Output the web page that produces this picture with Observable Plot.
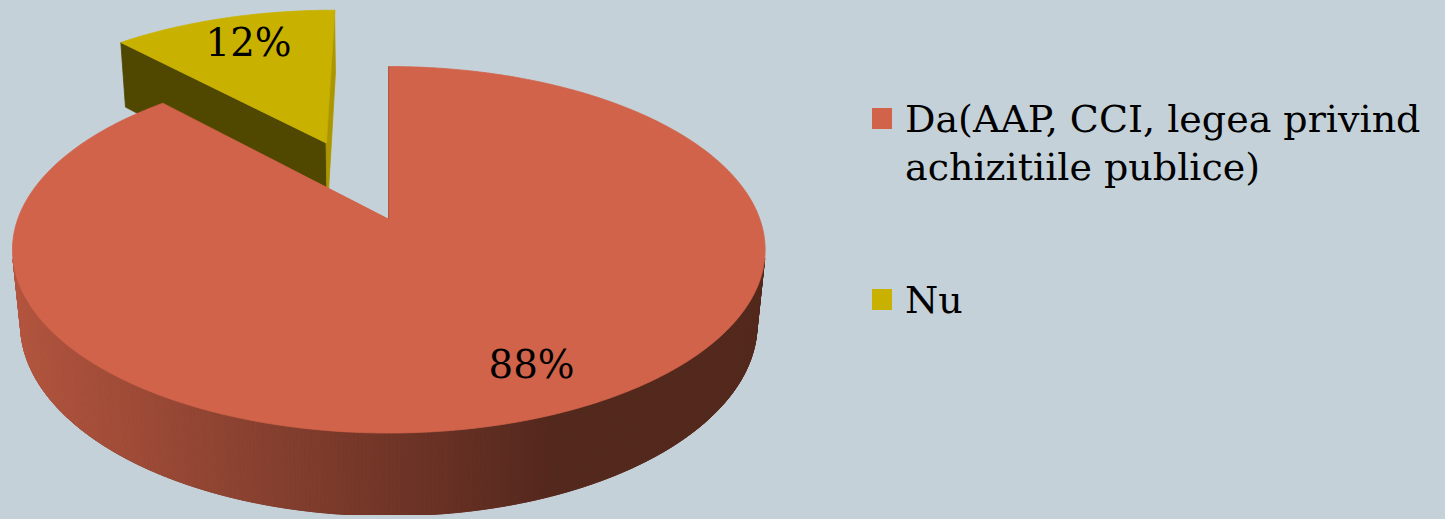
<!DOCTYPE html>
<html><head><meta charset="utf-8">
<script src="https://cdn.jsdelivr.net/npm/d3@7"></script>
<script src="https://cdn.jsdelivr.net/npm/@observablehq/plot@0.6"></script>
<style>
html,body{margin:0;padding:0;background:#c5d1d8;}
#wrap{display:flex;width:1445px;height:519px;overflow:hidden;position:relative;}
#chart svg{display:block;}
#legend{font-family:"DejaVu Serif",serif;font-size:38px;color:#000;padding-left:8px;}
.item{display:flex;align-items:flex-start;}
.sw{width:20px;height:21px;flex:none;margin-right:13px;}
.tx{line-height:48px;width:540px;}
</style></head><body>
<div id="wrap"><div id="chart"></div><div id="legend"></div></div>
<script>
// ---- data ----
const categories = ["Da(AAP, CCI, legea privind achizitiile publice)", "Nu"];
const values = [88, 12];
const valueLabels = ["88%", "12%"];
const colors = ["#d06349", "#c9b100"];
const exploded = [false, true];

// ---- 3D pie layout (perspective view) ----
const W = 870, HGT = 519;
const sinT = 0.48, cosT = Math.sqrt(1 - sinT * sinT);
const D = 5.22, F = 1950, CX = 391, CY = 220, DEPTH = 0.231, EXPLODE = 0.495;
const cam = [0, D * cosT, D * sinT];
function proj(u, v, h) {
  const xc = u, yc = v * sinT - h * cosT, zc = D - v * cosT - h * sinT;
  return [CX + F * xc / zc, CY + F * yc / zc];
}
function shadeSide(x) { // Excel-like horizontal gradient on the outer wall
  const t = Math.max(0, Math.min(1, (x - 14) / 546));
  return 0.86 - 0.46 * t;
}
function scaleColor(c, k) {
  const r = d3.rgb(c);
  return d3.rgb(r.r * k, r.g * k, r.b * k).formatHex();
}

const arcs = d3.pie().sort(null).value(d => d)(values);
const slices = arcs.map((a, i) => {
  const mid = (a.startAngle + a.endAngle) / 2;
  const e = exploded[i] ? EXPLODE : 0;
  return {i, a0: a.startAngle, a1: a.endAngle, mid, ou: e * Math.sin(mid), ov: -e * Math.cos(mid)};
});
// painter's order: back slices first
slices.sort((p, q) => (-Math.cos(p.mid)) - (-Math.cos(q.mid)));

const polys = [];
let pid = 0;
function addPoly(pts, fill) {
  const id = pid++;
  for (const [x, y] of pts) polys.push({id, x, y, fill});
}
const rim = (s, a, h) => proj(s.ou + Math.sin(a), s.ov - Math.cos(a), h);
const apex = (s, h) => proj(s.ou, s.ov, h);

for (const s of slices) {
  const base = colors[s.i];
  // radial faces
  for (const [a, sign] of [[s.a0, -1], [s.a1, 1]]) {
    const n = [sign * Math.cos(a), sign * Math.sin(a)];
    const d = (cam[0] - s.ou) * n[0] + (cam[1] - s.ov) * n[1];
    if (d >= -1e-9) {
      addPoly([apex(s, 0), rim(s, a, 0), rim(s, a, -DEPTH), apex(s, -DEPTH)], scaleColor(base, n[0] > 0.5 ? 0.85 : 0.4));
    }
  }
  // outer wall: backing polygon then thin shaded strips
  const step = Math.PI / 360;
  const strips = [];
  for (let a = s.a0; a < s.a1 - 1e-9; a += step) {
    const b = Math.min(a + step, s.a1), m = (a + b) / 2;
    const pu = s.ou + Math.sin(m), pv = s.ov - Math.cos(m);
    const vis = (cam[0] - pu) * Math.sin(m) + (cam[1] - pv) * (-Math.cos(m));
    if (vis <= 0) continue;
    strips.push([a, b]);
  }
  if (strips.length) {
    const aS = strips[0][0], aE = strips[strips.length - 1][1];
    const topPts = [], botPts = [];
    for (const [a] of strips) { topPts.push(rim(s, a, 0)); botPts.push(rim(s, a, -DEPTH)); }
    topPts.push(rim(s, aE, 0)); botPts.push(rim(s, aE, -DEPTH));
    const mx = d3.mean(topPts, p => p[0]);
    addPoly(topPts.concat(botPts.reverse()), scaleColor(base, shadeSide(mx)));
    for (const [a, b] of strips) {
      const p1 = rim(s, a, 0), p2 = rim(s, b, 0), p3 = rim(s, b, -DEPTH), p4 = rim(s, a, -DEPTH);
      addPoly([p1, p2, p3, p4], scaleColor(base, shadeSide((p1[0] + p2[0]) / 2)));
    }
  }
  // top face
  const pts = [apex(s, 0)];
  const n = Math.ceil((s.a1 - s.a0) / (Math.PI / 360));
  for (let k = 0; k <= n; k++) pts.push(rim(s, s.a0 + (s.a1 - s.a0) * k / n, 0));
  addPoly(pts, base);
}

// labels
const labelPlace = [{shift: -3.4, r: 0.8}, {shift: 1, r: 0.77}];
const labelRows = slices.map(s => {
  const lp = labelPlace[s.i];
  const a = s.mid + lp.shift * Math.PI / 180;
  const [x, y] = proj(s.ou + lp.r * Math.sin(a), s.ov - lp.r * Math.cos(a), 0);
  return {x, y, text: valueLabels[s.i]};
});

const chart = Plot.plot({
  width: W, height: HGT, margin: 0,
  x: {domain: [0, W], range: [0, W], axis: null},
  y: {domain: [0, HGT], range: [0, HGT], axis: null},
  color: {type: "identity"},
  style: {background: "transparent"},
  marks: [
    Plot.line(polys, {x: "x", y: "y", z: "id", fill: "fill", stroke: "fill", strokeWidth: 0.8, curve: "linear-closed"}),
    Plot.text(labelRows, {x: "x", y: "y", text: "text", fontSize: 39, fontFamily: "DejaVu Serif", fill: "black"})
  ]
});
document.getElementById("chart").appendChild(chart);

// legend
const legend = d3.select("#legend");
const tops = [95, 85];
categories.forEach((c, i) => {
  const it = legend.append("div").attr("class", "item").style("margin-top", tops[i] + "px");
  it.append("div").attr("class", "sw").style("background", colors[i]).style("margin-top", "13px");
  it.append("div").attr("class", "tx").text(c);
});
</script>
</body></html>
